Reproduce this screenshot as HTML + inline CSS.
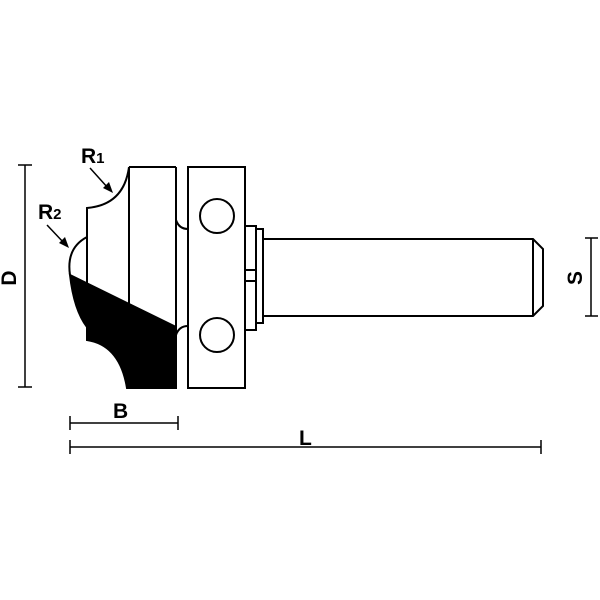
<!DOCTYPE html>
<html><head><style>body{margin:0;background:#fff}svg{display:block}</style></head><body>
<svg width="600" height="600" viewBox="0 0 600 600" xmlns="http://www.w3.org/2000/svg">
<rect width="600" height="600" fill="#fff"/>
<g stroke="#000" stroke-width="2" fill="none">
<!-- D dim -->
<line x1="25" y1="165" x2="25" y2="387" stroke-width="1.5"/>
<line x1="18" y1="165" x2="32" y2="165" stroke-width="1.5"/>
<line x1="18" y1="387" x2="32" y2="387" stroke-width="1.5"/>
<!-- S dim -->
<line x1="591" y1="238" x2="591" y2="316" stroke-width="1.5"/>
<line x1="585" y1="238" x2="598" y2="238" stroke-width="1.5"/>
<line x1="585" y1="316" x2="598" y2="316" stroke-width="1.5"/>
<!-- B dim -->
<line x1="70" y1="423" x2="178" y2="423" stroke-width="1.5"/>
<line x1="70" y1="416" x2="70" y2="430" stroke-width="1.5"/>
<line x1="178" y1="416" x2="178" y2="430" stroke-width="1.5"/>
<!-- L dim -->
<line x1="70" y1="447" x2="541" y2="447" stroke-width="1.5"/>
<line x1="70" y1="440" x2="70" y2="454" stroke-width="1.5"/>
<line x1="541" y1="440" x2="541" y2="454" stroke-width="1.5"/>
<!-- black region -->
<path d="M70,275 L176,327 L176,388 L127,388 Q120,345 87,340 L87,327 Q74,310 70,275 Z" fill="#000"/>
<!-- profile outline -->
<path d="M129,167 Q124,205 87,208 L87,283"/>
<path d="M87,237 Q66,248 70,275"/>
<line x1="129" y1="167" x2="129" y2="304"/>
<line x1="129" y1="167" x2="176" y2="167"/>
<line x1="176" y1="167" x2="176" y2="388"/>
<!-- bearing block -->
<rect x="188" y="167" width="57" height="221"/>
<path d="M176,220 Q179,229 188,229"/>
<path d="M176,335 Q179,326 188,326"/>
<circle cx="217" cy="216" r="17"/>
<circle cx="217" cy="335" r="17"/>
<!-- flanges -->
<rect x="245" y="226" width="11" height="104"/>
<rect x="256" y="229" width="7" height="94"/>
<line x1="245" y1="270" x2="256" y2="270"/>
<line x1="245" y1="281" x2="256" y2="281"/>
<!-- shank -->
<path d="M263,239 L533,239 L543,249 L543,306 L533,316 L263,316"/>
<line x1="533" y1="239" x2="533" y2="316"/>
<!-- arrows -->
<line x1="90" y1="168" x2="108" y2="188" stroke-width="1.5"/>
<line x1="47" y1="225" x2="64" y2="243" stroke-width="1.5"/>
</g>
<polygon points="113,193 103,188 109,182" fill="#000"/>
<polygon points="69,248 59,243 65,237" fill="#000"/>
<g font-family="Liberation Sans, sans-serif" font-weight="bold" fill="#000">
<text x="81" y="163" font-size="21">R<tspan font-size="15">1</tspan></text>
<text x="38" y="219" font-size="21">R<tspan font-size="15">2</tspan></text>
<text x="113" y="418" font-size="21">B</text>
<text x="299" y="445" font-size="21">L</text>
<text transform="translate(16,278) rotate(-90)" text-anchor="middle" font-size="21">D</text>
<text transform="translate(582,278) rotate(-90)" text-anchor="middle" font-size="21">S</text>
</g>
</svg>
</body></html>
